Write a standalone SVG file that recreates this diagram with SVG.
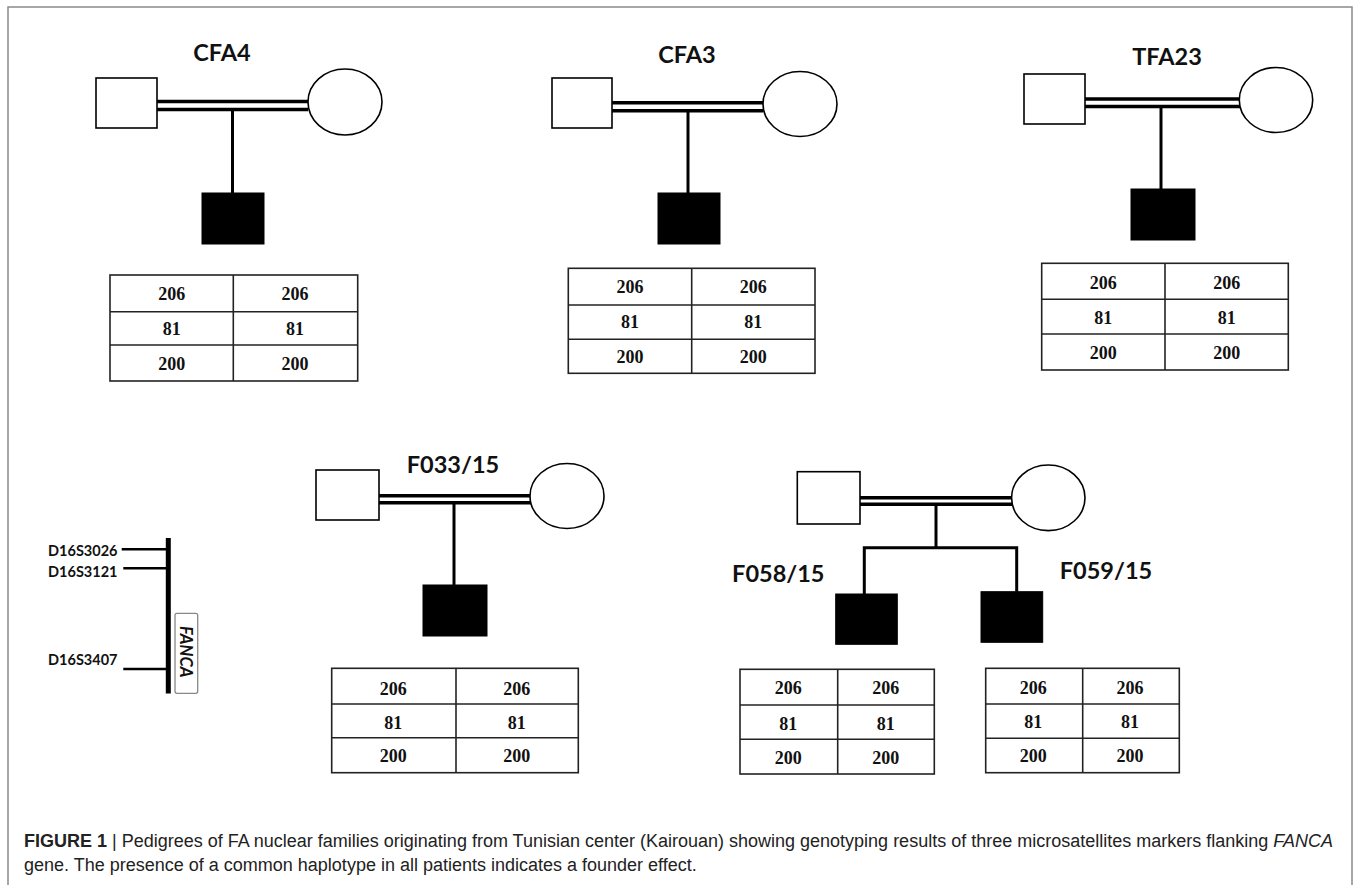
<svg xmlns="http://www.w3.org/2000/svg" width="1359" height="885" viewBox="0 0 1359 885">
<style>
.bg{fill:#fff}
.frame{fill:none;stroke:#8a8a8a;stroke-width:1.5}
.male{fill:#fff;stroke:#000;stroke-width:1.6}
.female{fill:#fff;stroke:#000;stroke-width:1.6}
.aff{fill:#000;stroke:#000;stroke-width:1}
.mate{stroke:#000;stroke-width:3.5;fill:none}
.line{stroke:#000;stroke-width:3;fill:none}
.tbl{fill:#fff;stroke:#222;stroke-width:1.6}
.tl{stroke:#222;stroke-width:1.6}
.title{font-family:Lato,"Open Sans",sans-serif;font-weight:700;font-size:23.5px;fill:#111;text-anchor:middle}
.num{font-family:"Liberation Serif","Times New Roman",serif;font-weight:700;font-size:18px;fill:#111;text-anchor:middle}
.mk{font-family:Lato,"Liberation Sans",sans-serif;font-weight:700;font-size:14.5px;fill:#111;text-anchor:end}
.cap{font-family:"Liberation Sans",Arial,sans-serif;font-size:18px;fill:#222}
</style>
<rect class="bg" x="0" y="0" width="1359" height="885"/>
<path class="frame" d="M8,885 V7 H1352 V885"/>

<g id="connectors">
  <!-- CFA4 -->
  <line class="mate" x1="157" y1="101.5" x2="308" y2="101.5"/>
  <line class="mate" x1="157" y1="109.5" x2="308" y2="109.5"/>
  <line class="line" x1="232.5" y1="109.5" x2="232.5" y2="193"/>
  <!-- CFA3 -->
  <line class="mate" x1="612" y1="102.7" x2="763" y2="102.7"/>
  <line class="mate" x1="612" y1="110.7" x2="763" y2="110.7"/>
  <line class="line" x1="688" y1="110.7" x2="688" y2="193"/>
  <!-- TFA23 -->
  <line class="mate" x1="1085" y1="99" x2="1240" y2="99"/>
  <line class="mate" x1="1085" y1="106.5" x2="1240" y2="106.5"/>
  <line class="line" x1="1161" y1="106.5" x2="1161" y2="189"/>
  <!-- F033/15 -->
  <line class="mate" x1="379" y1="495.7" x2="531" y2="495.7"/>
  <line class="mate" x1="379" y1="502.7" x2="531" y2="502.7"/>
  <line class="line" x1="454" y1="502.7" x2="454" y2="585"/>
  <!-- F058/F059 -->
  <line class="mate" x1="860" y1="497.7" x2="1012" y2="497.7"/>
  <line class="mate" x1="860" y1="504.3" x2="1012" y2="504.3"/>
  <line class="line" x1="936" y1="504.3" x2="936" y2="547.7"/>
  <path class="line" d="M864.3,594 V547.7 H1016.7 V591.7"/>
</g>

<g id="CFA4">
  <text class="title" x="222" y="61">CFA4</text>
  <rect class="male" x="96" y="78" width="61" height="50"/>
  <ellipse class="female" cx="345" cy="102" rx="37" ry="33"/>
  <rect class="aff" x="202" y="193" width="62" height="51"/>
  <rect class="tbl" x="110" y="275" width="247.7" height="106"/>
  <line class="tl" x1="233.3" y1="275" x2="233.3" y2="381"/>
  <line class="tl" x1="110" y1="311.7" x2="357.7" y2="311.7"/>
  <line class="tl" x1="110" y1="345" x2="357.7" y2="345"/>
  <text class="num" x="171.7" y="300">206</text><text class="num" x="295" y="300">206</text>
  <text class="num" x="171.7" y="335">81</text><text class="num" x="295" y="335">81</text>
  <text class="num" x="171.7" y="370">200</text><text class="num" x="295" y="370">200</text>
</g>

<g id="CFA3">
  <text class="title" x="687" y="63">CFA3</text>
  <rect class="male" x="552" y="78" width="60" height="50"/>
  <ellipse class="female" cx="800" cy="104" rx="37" ry="32.5"/>
  <rect class="aff" x="658" y="193" width="62" height="51"/>
  <rect class="tbl" x="568.3" y="268.3" width="246.7" height="105"/>
  <line class="tl" x1="691.7" y1="268.3" x2="691.7" y2="373.3"/>
  <line class="tl" x1="568.3" y1="305" x2="815" y2="305"/>
  <line class="tl" x1="568.3" y1="339.3" x2="815" y2="339.3"/>
  <text class="num" x="630" y="293.3">206</text><text class="num" x="753.3" y="293.3">206</text>
  <text class="num" x="630" y="328.3">81</text><text class="num" x="753.3" y="328.3">81</text>
  <text class="num" x="630" y="363.3">200</text><text class="num" x="753.3" y="363.3">200</text>
</g>

<g id="TFA23">
  <text class="title" x="1167" y="65">TFA23</text>
  <rect class="male" x="1024" y="74" width="61" height="50"/>
  <ellipse class="female" cx="1276" cy="100" rx="36.7" ry="32.5"/>
  <rect class="aff" x="1131" y="189" width="64" height="51"/>
  <rect class="tbl" x="1041.7" y="263.3" width="246.6" height="106.7"/>
  <line class="tl" x1="1165" y1="263.3" x2="1165" y2="370"/>
  <line class="tl" x1="1041.7" y1="299.3" x2="1288.3" y2="299.3"/>
  <line class="tl" x1="1041.7" y1="334" x2="1288.3" y2="334"/>
  <text class="num" x="1103.3" y="288.5">206</text><text class="num" x="1226.7" y="288.5">206</text>
  <text class="num" x="1103.3" y="324">81</text><text class="num" x="1226.7" y="324">81</text>
  <text class="num" x="1103.3" y="359">200</text><text class="num" x="1226.7" y="359">200</text>
</g>

<g id="F033-15">
  <text class="title" x="453" y="473">F033/15</text>
  <rect class="male" x="316" y="470" width="63" height="50"/>
  <ellipse class="female" cx="567" cy="496" rx="37" ry="32.5"/>
  <rect class="aff" x="423" y="585" width="64" height="51"/>
  <rect class="tbl" x="331.7" y="668.3" width="246.6" height="104.4"/>
  <line class="tl" x1="456" y1="668.3" x2="456" y2="772.7"/>
  <line class="tl" x1="331.7" y1="704" x2="578.3" y2="704"/>
  <line class="tl" x1="331.7" y1="737.7" x2="578.3" y2="737.7"/>
  <text class="num" x="393.3" y="694.5">206</text><text class="num" x="516.7" y="694.5">206</text>
  <text class="num" x="393.3" y="728.5">81</text><text class="num" x="516.7" y="728.5">81</text>
  <text class="num" x="393.3" y="761.5">200</text><text class="num" x="516.7" y="761.5">200</text>
</g>

<g id="F058-F059-parents">
  <rect class="male" x="797.3" y="471.7" width="62.7" height="52.3"/>
  <ellipse class="female" cx="1048.3" cy="497.8" rx="36.7" ry="32.8"/>
</g>

<g id="F058-15">
  <text class="title" x="778.3" y="581.7">F058/15</text>
  <rect class="aff" x="835.7" y="594" width="61.6" height="50.3"/>
  <rect class="tbl" x="740" y="669.3" width="194.3" height="104.7"/>
  <line class="tl" x1="837.7" y1="669.3" x2="837.7" y2="774"/>
  <line class="tl" x1="740" y1="705" x2="934.3" y2="705"/>
  <line class="tl" x1="740" y1="739.3" x2="934.3" y2="739.3"/>
  <text class="num" x="788.3" y="693.5">206</text><text class="num" x="885.7" y="693.5">206</text>
  <text class="num" x="788.3" y="729.5">81</text><text class="num" x="885.7" y="729.5">81</text>
  <text class="num" x="788.3" y="764">200</text><text class="num" x="885.7" y="764">200</text>
</g>

<g id="F059-15">
  <text class="title" x="1106" y="579.3">F059/15</text>
  <rect class="aff" x="981" y="591.7" width="61.7" height="50.6"/>
  <rect class="tbl" x="985.7" y="668.3" width="193.6" height="104.4"/>
  <line class="tl" x1="1082.7" y1="668.3" x2="1082.7" y2="772.7"/>
  <line class="tl" x1="985.7" y1="704" x2="1179.3" y2="704"/>
  <line class="tl" x1="985.7" y1="738.3" x2="1179.3" y2="738.3"/>
  <text class="num" x="1033.3" y="694">206</text><text class="num" x="1130" y="694">206</text>
  <text class="num" x="1033.3" y="728.3">81</text><text class="num" x="1130" y="728.3">81</text>
  <text class="num" x="1033.3" y="761.7">200</text><text class="num" x="1130" y="761.7">200</text>
</g>

<g id="marker-map">
  <line x1="168.3" y1="538" x2="168.3" y2="693.5" stroke="#000" stroke-width="5"/>
  <line x1="121.7" y1="549.3" x2="168" y2="549.3" stroke="#000" stroke-width="2.5"/>
  <line x1="123.3" y1="568.3" x2="168" y2="568.3" stroke="#000" stroke-width="2.5"/>
  <line x1="123.3" y1="669" x2="168" y2="669" stroke="#000" stroke-width="2.5"/>
  <text class="mk" x="117.5" y="555.5">D16S3026</text>
  <text class="mk" x="117.5" y="576.5">D16S3121</text>
  <text class="mk" x="117.5" y="665">D16S3407</text>
  <rect x="175" y="613.3" width="22.7" height="80" rx="2" fill="#fff" stroke="#888" stroke-width="1.3"/>
  <text x="186.3" y="651.7" transform="rotate(90 186.3 651.7)" font-family="Lato,'Liberation Sans',sans-serif" font-weight="700" font-style="italic" font-size="16.5" fill="#111" text-anchor="middle" dominant-baseline="central">FANCA</text>
</g>

<g id="caption">
  <text class="cap" x="24" y="847"><tspan font-weight="700">FIGURE 1</tspan><tspan> | </tspan><tspan>Pedigrees of FA nuclear families originating from Tunisian center (Kairouan) showing genotyping results of three microsatellites markers flanking </tspan><tspan font-style="italic">FANCA</tspan></text>
  <text class="cap" x="24" y="871">gene. The presence of a common haplotype in all patients indicates a founder effect.</text>
</g>
</svg>
